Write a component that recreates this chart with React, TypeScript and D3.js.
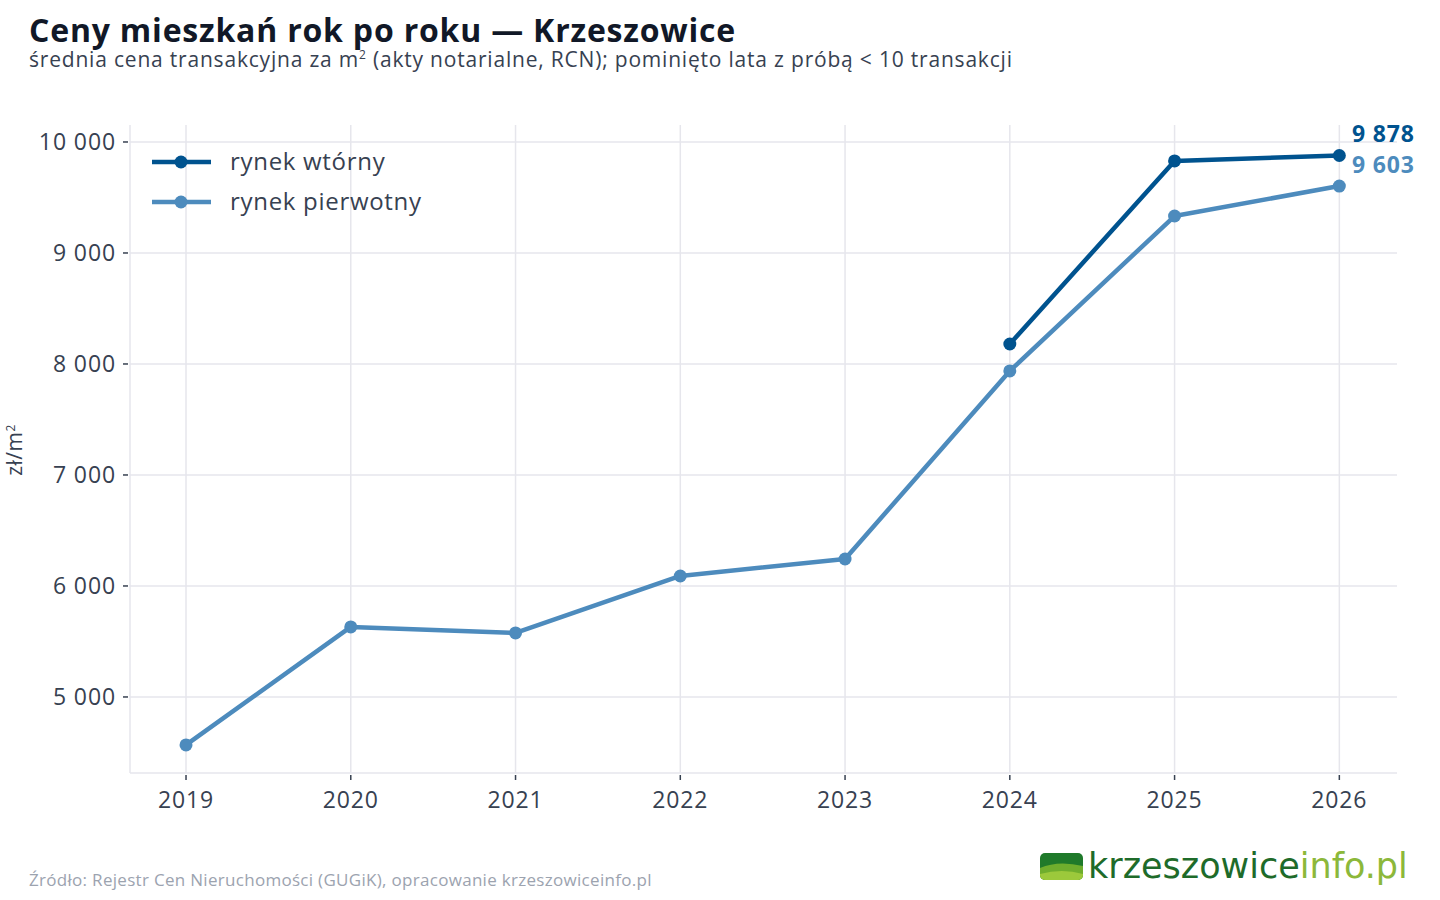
import React from "react";
import * as d3 from "d3";

const years = [2019, 2020, 2021, 2022, 2023, 2024, 2025, 2026];
const pierwotny = [4568, 5631, 5577, 6090, 6243, 7937, 9333, 9603];
const wtornyYears = [2024, 2025, 2026];
const wtorny = [8180, 9829, 9878];
const yTicks = [5000, 6000, 7000, 8000, 9000, 10000];
const seriesNames = ["rynek wtórny", "rynek pierwotny"];

const W = 1440, H = 900;
const left = 130, right = 1397, top = 125, bottom = 773;
const C_DARK = "#00538f";
const C_LIGHT = "#4d8bbd";
const FONT = "'Open Sans', 'Noto Sans', sans-serif";

const fmt = (v: number) => d3.format(",")(v).replace(/,/g, " ");

export default function App() {
  const x = d3.scaleLinear().domain([2018.66, 2026.35]).range([left, right]);
  const y = d3.scaleLinear().domain([4315, 10153]).range([bottom, top]);
  const line = d3.line<[number, number]>().x(d => x(d[0])).y(d => y(d[1]));
  const pData: [number, number][] = years.map((yr, i) => [yr, pierwotny[i]]);
  const wData: [number, number][] = wtornyYears.map((yr, i) => [yr, wtorny[i]]);
  const grid = "#e6e6ec";
  const tick = "#374151";

  return (
    <svg width={W} height={H} style={{ display: "block", position: "absolute", left: 0, top: 0 }} fontFamily={FONT}>
      <rect width={W} height={H} fill="#fff" />
      <text x={29} y={42} fontSize={32} fontWeight={700} letterSpacing={0.8} fill="#111827">Ceny mieszkań rok po roku — Krzeszowice</text>
      <text x={29} y={67} fontSize={21} letterSpacing={0.8} fill="#374151">
        średnia cena transakcyjna za m<tspan dy={-8} fontSize={12}>2</tspan><tspan dy={8}> (akty notarialne, RCN); pominięto lata z próbą &lt; 10 transakcji</tspan>
      </text>

      {/* grid */}
      {years.map(yr => (
        <line key={"gx" + yr} x1={x(yr)} x2={x(yr)} y1={top} y2={bottom} stroke={grid} strokeWidth={1.5} />
      ))}
      {yTicks.map(v => (
        <line key={"gy" + v} x1={left} x2={right} y1={y(v)} y2={y(v)} stroke={grid} strokeWidth={1.5} />
      ))}
      {/* axes */}
      <line x1={left} x2={left} y1={top} y2={bottom} stroke={grid} strokeWidth={1.5} />
      <line x1={left} x2={right} y1={bottom} y2={bottom} stroke={grid} strokeWidth={1.5} />
      {yTicks.map(v => (
        <g key={"ty" + v}>
          <line x1={left - 7} x2={left - 2} y1={y(v)} y2={y(v)} stroke={tick} strokeWidth={1.5} />
          <text x={left - 14} y={y(v)} dy="0.35em" textAnchor="end" fontSize={23} letterSpacing={0.9} fill={tick}>{fmt(v)}</text>
        </g>
      ))}
      {years.map(yr => (
        <g key={"tx" + yr}>
          <line x1={x(yr)} x2={x(yr)} y1={bottom + 2} y2={bottom + 7} stroke={tick} strokeWidth={1.5} />
          <text x={x(yr)} y={808} textAnchor="middle" fontSize={23} letterSpacing={0.9} fill={tick}>{yr}</text>
        </g>
      ))}
      <text transform={`translate(22,450) rotate(-90)`} textAnchor="middle" fontSize={21} letterSpacing={0.5} fill={tick}>
        zł/m<tspan dy={-7} fontSize={12}>2</tspan>
      </text>

      {/* lines */}
      <path d={line(pData) || ""} fill="none" stroke={C_LIGHT} strokeWidth={4.5} strokeLinejoin="round" />
      {pData.map(d => <circle key={"p" + d[0]} cx={x(d[0])} cy={y(d[1])} r={6.5} fill={C_LIGHT} />)}
      <path d={line(wData) || ""} fill="none" stroke={C_DARK} strokeWidth={4.5} strokeLinejoin="round" />
      {wData.map(d => <circle key={"w" + d[0]} cx={x(d[0])} cy={y(d[1])} r={6.5} fill={C_DARK} />)}

      {/* end labels */}
      <text x={1352} y={142} fontSize={23} fontWeight={700} letterSpacing={0.8} fill={C_DARK}>{fmt(wtorny[wtorny.length - 1])}</text>
      <text x={1352} y={173} fontSize={23} fontWeight={700} letterSpacing={0.8} fill={C_LIGHT}>{fmt(pierwotny[pierwotny.length - 1])}</text>

      {/* legend */}
      {seriesNames.map((n, i) => {
        const ly = 162 + i * 40;
        const c = i === 0 ? C_DARK : C_LIGHT;
        return (
          <g key={n}>
            <line x1={152} x2={211} y1={ly} y2={ly} stroke={c} strokeWidth={4.5} />
            <circle cx={181} cy={ly} r={6.5} fill={c} />
            <text x={230} y={ly} dy="0.35em" fontSize={24} letterSpacing={0.7} fill="#374151">{n}</text>
          </g>
        );
      })}

      {/* source */}
      <text x={29} y={886} fontSize={17} letterSpacing={0.3} fill="#9ca3af">Źródło: Rejestr Cen Nieruchomości (GUGiK), opracowanie krzeszowiceinfo.pl</text>

      {/* logo */}
      <defs>
        <clipPath id="logoClip"><rect x={1040} y={853} width={43} height={27} rx={5} /></clipPath>
      </defs>
      <g clipPath="url(#logoClip)">
        <rect x={1040} y={853} width={43} height={27} fill="#1f7a2a" />
        <path d="M1040,868 Q1058,860 1083,866 L1083,880 L1040,880 Z" fill="#6fae2d" />
        <path d="M1040,874 Q1062,868 1083,874 L1083,880 L1040,880 Z" fill="#9cc93b" />
      </g>
      <text x={1088} y={878} fontSize={35} fontFamily="'DejaVu Sans', sans-serif">
        <tspan fill="#1e6b2a">krzeszowice</tspan><tspan fill="#8cb83a">info.pl</tspan>
      </text>
    </svg>
  );
}
